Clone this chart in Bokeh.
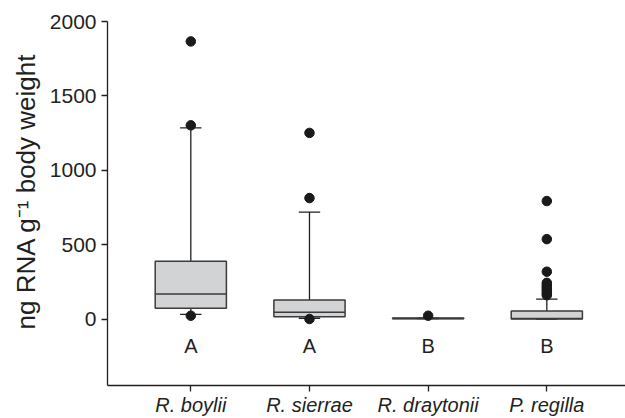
import numpy as np
from bokeh.plotting import figure
from bokeh.models import Range1d, FixedTicker, Title
from bokeh.core.properties import value
from bokeh.embed import file_html
from bokeh.resources import INLINE

# ---- data ----
categories = ["R. boylii", "R. sierrae", "R. draytonii", "P. regilla"]
q1 = [72, 15, 2, 0]
medians = [168, 45, 4, 3]
q3 = [389, 127, 6, 54]
whisker_low = [31, 5, 2, 0]
whisker_high = [1285, 719, 6, 134]
group_letters = ["A", "A", "B", "B"]
outlier_group = [0, 0, 0, 1, 1, 1, 2, 3, 3, 3, 3, 3, 3, 3, 3, 3, 3]
outlier_value = [1866, 1302, 22, 1251, 813, 0, 22, 793, 537, 318,
                 243, 228, 214, 200, 186, 172, 160]
y_ticks = [0, 500, 1000, 1500, 2000]
y_title = "ng RNA g\u207b\u00b9 body weight"
letter_y = -182

FONT = "Liberation Sans"
DARK = "#231f20"
BOX_LINE = "#3b3b3b"
BOX_FILL = "#d1d3d4"

xs = np.arange(len(categories))

p = figure(width=625, height=418, output_backend="svg", toolbar_location=None,
           x_range=Range1d(-0.702, 3.663), y_range=Range1d(-447, 2000),
           min_border_left=107, min_border_right=0, min_border_top=21,
           min_border_bottom=32)
p.outline_line_color = None
p.grid.visible = False
p.background_fill_color = "white"
p.border_fill_color = "white"

# whiskers
p.segment(x0=xs, y0=q3, x1=xs, y1=whisker_high, line_color=DARK, line_width=1.3)
p.segment(x0=xs, y0=q1, x1=xs, y1=whisker_low, line_color=DARK, line_width=1.3)
cap = 0.09
p.segment(x0=xs - cap, y0=whisker_high, x1=xs + cap, y1=whisker_high,
          line_color=DARK, line_width=1.3)
p.segment(x0=xs - cap, y0=whisker_low, x1=xs + cap, y1=whisker_low,
          line_color=DARK, line_width=1.3)

# boxes
p.vbar(x=xs, width=0.6, bottom=q1, top=q3, fill_color=BOX_FILL,
       line_color=BOX_LINE, line_width=1.5)
half = 0.3
p.segment(x0=xs - half, y0=medians, x1=xs + half, y1=medians,
          line_color=BOX_LINE, line_width=1.5)

# outliers
p.scatter(x=outlier_group, y=outlier_value, size=9.5, fill_color="#1a1a1a",
          line_color="#1a1a1a", marker="circle")

# letters
p.text(x=xs, y=[letter_y] * len(xs), text=group_letters, text_align="center",
       text_baseline="alphabetic", text_font=value(FONT), text_font_size="20px",
       text_color=DARK)

# axes
p.xaxis.ticker = FixedTicker(ticks=list(xs))
p.xaxis.major_label_overrides = {int(i): c for i, c in zip(xs, categories)}
p.yaxis.ticker = FixedTicker(ticks=y_ticks)
for ax in (p.xaxis, p.yaxis):
    ax.axis_line_color = DARK
    ax.axis_line_width = 1.3
    ax.major_tick_line_color = DARK
    ax.major_tick_line_width = 1.3
    ax.major_tick_in = 0
    ax.major_tick_out = 6
    ax.minor_tick_line_color = None
    ax.major_label_text_font = FONT
    ax.major_label_text_font_size = "20px"
    ax.major_label_text_color = DARK

p.yaxis.major_label_text_font_size = "21px"
p.xaxis.major_label_text_font_style = "italic"
p.xaxis.major_label_standoff = 2
p.yaxis.major_label_standoff = 5

# y-axis title as a side title so it can be shifted along the axis
title = Title(text=y_title, align="left", offset=56, standoff=12,
              text_font=FONT, text_font_size="26px", text_font_style="normal",
              text_color=DARK)
p.add_layout(title, "left")

open("out.html", "w").write(file_html(p, INLINE))
